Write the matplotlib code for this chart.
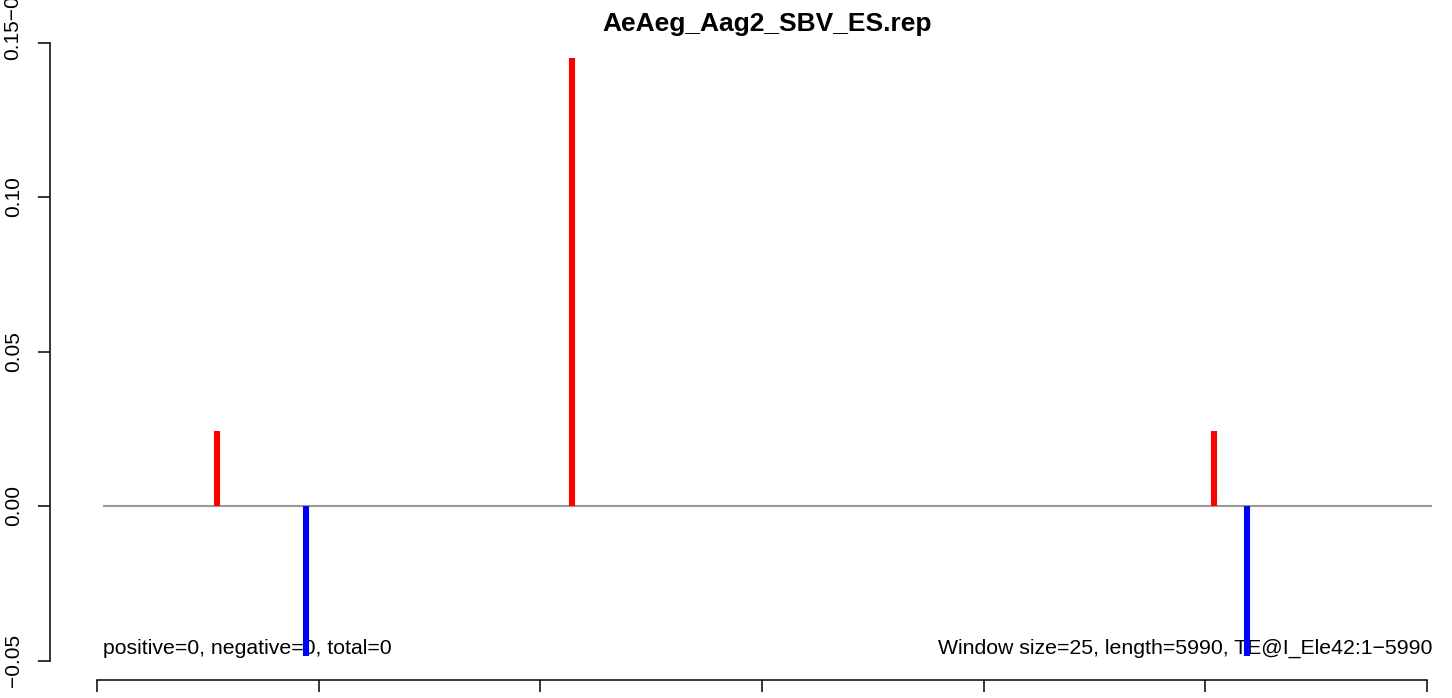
import matplotlib
matplotlib.use("Agg")
from matplotlib import pyplot as plt

plt.rcParams["font.family"] = ["Liberation Sans", "DejaVu Sans"]

title = "AeAeg_Aag2_SBV_ES.rep"
pos_x = [540, 2142, 5039]
pos_y = [0.0243, 0.145, 0.0243]
neg_x = [942, 5188]
neg_y = [-0.0486, -0.0486]
yticks = [-0.05, 0.0, 0.05, 0.10, 0.15]
ytick_labels = ["\u22120.05", "0.00", "0.05", "0.10", ""]
xticks = [0, 1000, 2000, 3000, 4000, 5000, 6000]
left_note = "positive=0, negative=0, total=0"
right_note = "Window size=25, length=5990, TE@I_Ele42:1\u22125990"

W, H = 1452, 698
fig = plt.figure(figsize=(W / 100, H / 100), dpi=100)

# axes box in pixels (from top-left)
L, R, T, B = 50, 1440, 10, 695
ax = fig.add_axes([L / W, 1 - B / H, (R - L) / W, (B - T) / H])

# pixel <-> data mapping
x0px, xscale = 97, 0.22167      # px per unit x
y0px, yscale = 506, 3090        # px per unit y
ax.set_xlim((L - x0px) / xscale, (R - x0px) / xscale)
ax.set_ylim((y0px - B) / yscale, (y0px - T) / yscale)

ax.hlines(0, 27, 6023, color="#999999", lw=1.5, zorder=1)
ax.vlines(pos_x, 0, pos_y, color="red", lw=4.4, capstyle="butt", zorder=3)
ax.vlines(neg_x, 0, neg_y, color="blue", lw=4.4, capstyle="butt", zorder=3)

ax.text(27, -0.0479, left_note, fontsize=15.3, ha="left", va="baseline", zorder=2)
ax.text(6023, -0.0479, right_note, fontsize=15.3, ha="right", va="baseline", zorder=2)

for s in ["top", "right"]:
    ax.spines[s].set_visible(False)
ax.spines["left"].set_bounds(-0.05, 0.15)
ax.spines["bottom"].set_position(("data", (y0px - 680) / yscale))
ax.spines["bottom"].set_bounds(0, 6000)
for s in ["left", "bottom"]:
    ax.spines[s].set_linewidth(1.1)

ax.set_yticks(yticks)
ax.set_yticklabels(ytick_labels)
ax.set_xticks(xticks)
ax.set_xticklabels([])
ax.tick_params(axis="both", direction="out", length=8.6, width=1.1)
ax.tick_params(axis="y", labelsize=15, pad=10.5, labelrotation=90)
for lab in ax.get_yticklabels():
    lab.set_va("center")

# top tick label runs off the figure in the reference
fig.text(13 / W, 1 - 60 / H, "0.15\u22120.05", rotation=90, fontsize=15,
         ha="center", va="bottom")

fig.text(767.5 / W, 1 - 31 / H, title, fontsize=19, fontweight="bold",
         ha="center", va="baseline")

fig.savefig("out.png", dpi=100)
